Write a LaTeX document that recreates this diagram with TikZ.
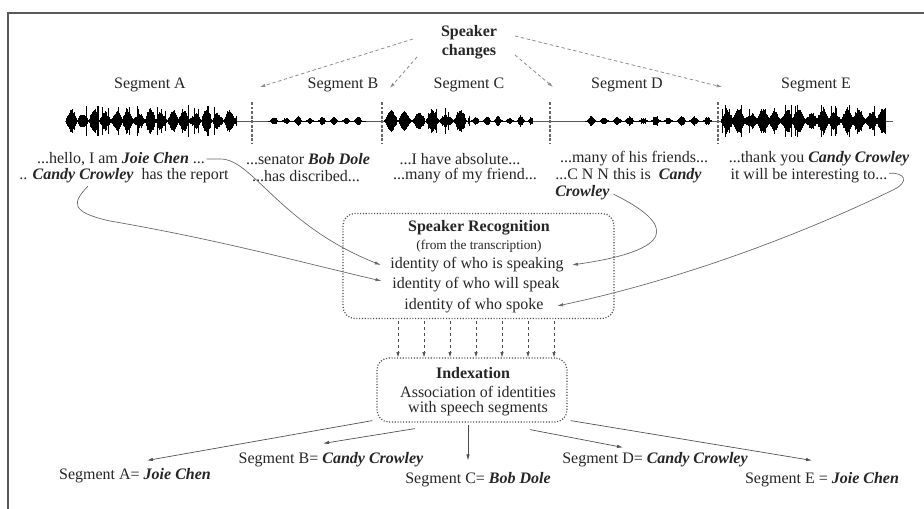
\documentclass[tikz,border=0pt]{standalone}
\usepackage{fontspec}
\setmainfont{Liberation Serif}
\usetikzlibrary{arrows.meta}
\newcommand\bitx[1]{\textbf{\textit{#1}}}
% wave part: x0, x1, amplitude, frequency, base, spike probability, spike amp, power
\newcommand\wavepart[8]{%
  \pgfmathtruncatemacro\wn{(#2-#1)/0.8}%
  \foreach \i in {0,...,\wn}{%
    \pgfmathsetmacro\wx{#1+0.8*\i}%
    \pgfmathsetmacro\wph{0.8*\i*#4}%
    \pgfmathsetmacro\wenv{abs(sin(\wph))^#8}%
    \pgfmathsetmacro\wr{rnd}%
    \pgfmathsetmacro\wh{(\wr<#6)&&(\wenv>0.3) ? #7*(0.65+0.35*rnd) : #5+#3*\wenv*(0.45+0.55*abs(sin(\wph*0.41+#1)))*(0.7+0.3*rnd)}%
    \draw[wave] (\wx,121-\wh) -- (\wx,121+\wh);
  }}
\begin{document}
\begin{tikzpicture}[x=0.75pt,y=-0.75pt,
  txt/.style={inner sep=0pt, font=\fontsize{12}{11.5}\selectfont, text=black!85},
  btxt/.style={inner sep=0pt, font=\fontsize{12}{14.25}\selectfont\bfseries, text=black!85, align=center},
  stxt/.style={inner sep=0pt, font=\fontsize{10}{12}\selectfont, text=black!85},
  wave/.style={line width=0.55pt, black},
  sepline/.style={line width=0.8pt, black!60, dash pattern=on 2.2pt off 1.2pt},
  chg/.style={line width=0.6pt, black!45, dash pattern=on 2.5pt off 2pt, -{Latex[length=4pt,width=2.5pt]}},
  curve/.style={line width=0.5pt, black!60, -{Latex[length=4.5pt,width=2.5pt]}},
  dotbox/.style={draw=black!70, line width=0.9pt, dash pattern=on 0.8pt off 1.3pt, rounded corners=9pt, inner sep=0pt},
  darr/.style={line width=0.5pt, black!70, dash pattern=on 2.5pt off 2pt, -{Latex[length=4pt,width=2.5pt]}},
  sarr/.style={line width=0.5pt, black!70, -{Latex[length=4.5pt,width=2.5pt]}}]
\useasboundingbox (0,0) rectangle (924,509);
\fill[white] (0,0) rectangle (924,509);
% frame
\draw[line width=1.1pt, black!65] (924,13) -- (8,13) -- (8,509);

% speaker changes
\node[btxt] (sc) at (469,42.5) {Speaker\\changes};
% segment titles
\node[txt] (sa) at (150,85) {Segment A};
\node[txt] (sb) at (343,85) {Segment B};
\node[txt] (scc) at (469,85) {Segment C};
\node[txt] (sd) at (627,85) {Segment D};
\node[txt] (se) at (816,85) {Segment E};

% waveform
\draw[line width=0.45pt, black!65] (65,121) -- (893,121);
\pgfmathsetseed{11}
\wavepart{66}{237}{12}{16}{0.8}{0.10}{16}{1.0}
\wavepart{268}{366}{5}{15}{0.15}{0}{0}{3}
\wavepart{384}{470}{12}{13}{0.4}{0.04}{13}{1.3}
\wavepart{470}{533}{6}{16}{0.15}{0}{0}{3}
\wavepart{585}{712}{5.5}{14}{0.15}{0}{0}{3}
\wavepart{721}{885}{13}{15}{0.8}{0.12}{17}{0.9}

% separators
\coordinate (s1t) at (252,102); \coordinate (s1b) at (252,143);
\coordinate (s2t) at (382,102); \coordinate (s2b) at (382,143);
\coordinate (s3t) at (550,102); \coordinate (s3b) at (550,143);
\coordinate (s4t) at (718,102); \coordinate (s4b) at (718,143);
\draw[sepline] (s1t) -- (s1b);
\draw[sepline] (s2t) -- (s2b);
\draw[sepline] (s3t) -- (s3b);
\draw[sepline] (s4t) -- (s4b);

% speaker change arrows
\coordinate (c1s) at (413,39); \coordinate (c1e) at (260,87);
\coordinate (c2s) at (417,57); \coordinate (c2e) at (390,88);
\coordinate (c3s) at (515,55); \coordinate (c3e) at (553,87);
\coordinate (c4s) at (515,36); \coordinate (c4e) at (722,87);
\draw[chg] (c1s) -- (c1e);
\draw[chg] (c2s) -- (c2e);
\draw[chg] (c3s) -- (c3e);
\draw[chg] (c4s) -- (c4e);

% transcriptions
\node[txt] (ta1) at (121,159) {...hello, I am \bitx{Joie Chen} ...};
\node[txt] (ta2) at (124,176) {.. \bitx{Candy Crowley}\ \ has the report};
\node[txt] (tb1) at (308,159) {...senator \bitx{Bob Dole}};
\node[txt] (tb2) at (306,176) {...has discribed...};
\node[txt] (tc1) at (460,159) {...I have absolute...};
\node[txt] (tc2) at (465,176) {...many of my friend...};
\node[txt] (td1) at (634,159) {...many of his friends...};
\node[txt, anchor=west] (td2) at (555,176) {...C N N this is\ \ \bitx{Candy}};
\node[txt, anchor=west] (td3) at (555,193) {\bitx{Crowley}};
\node[txt] (te1) at (819,159) {...thank you \bitx{Candy Crowley}};
\node[txt] (te2) at (809,176) {it will be interesting to...};

% speaker recognition box
\node[dotbox, minimum width=203.25pt, minimum height=78.75pt] (rb) at (478.5,266) {};
\node[txt, font=\fontsize{12}{14}\selectfont\bfseries] (rt) at (479,228) {Speaker Recognition};
\node[stxt] (rs) at (479,246) {(from the transcription)};
\node[txt] (id1) at (477,265) {identity of who is speaking};
\node[txt] (id2) at (476,285) {identity of who will speak};
\node[txt] (id3) at (474,306) {identity of who spoke};

% curves
\coordinate (a2s) at (88,186);
\draw[curve] ([xshift=1pt]ta1.east) -- ++(14,0) .. controls +(32,0) and (280,225) .. ([xshift=-7pt]id1.west);
\draw[curve] (a2s) .. controls (72,203) and (70,212) .. (110,221) .. controls (220,240) and (300,262) .. ([xshift=-8pt,yshift=3pt]id2.west);
\draw[curve] ([xshift=3pt,yshift=-1pt]td3.east) .. controls (676,225) and (676,250) .. ([xshift=6pt]id1.east);
\draw[curve] ([xshift=1pt,yshift=2pt]te2.east) .. controls (905,172) and (910,182) .. (893,190) .. controls (800,235) and (680,280) .. ([xshift=10pt]id3.east);

% indexation box
\node[dotbox, minimum width=142.5pt, minimum height=48pt] (ib) at (472,390) {};
\node[txt, font=\fontsize{12}{14}\selectfont\bfseries] (it) at (473,373) {Indexation};
\node[txt] (ia) at (478,392) {Association of identities};
\node[txt] (iw) at (478,409) {with speech segments};

% dashed arrows between boxes
\foreach \k in {0,...,6}{
  \coordinate (dk\k) at (398+26*\k,0);
  \draw[darr] ([yshift=-1.5pt]dk\k |- rb.south) -- (dk\k |- ib.north);
}

% labels
\node[txt] (la) at (135,476) {Segment A= \bitx{Joie Chen}};
\node[txt] (lb) at (331,460) {Segment B= \bitx{Candy Crowley}};
\node[txt] (lc) at (478,480) {Segment C= \bitx{Bob Dole}};
\node[txt] (ld) at (655,460) {Segment D= \bitx{Candy Crowley}};
\node[txt] (le) at (822,480) {Segment E = \bitx{Joie Chen}};

\draw[sarr] ([shift={(-4,-2)}]ib.south west) -- ([shift={(12,-8)}]la.north);
\draw[sarr] ([shift={(-57,6)}]ib.south) -- ([shift={(-8,-9)}]lb.north);
\draw[sarr] ([shift={(-4,2)}]ib.south) -- ([shift={(-10,-12)}]lc.north);
\draw[sarr] ([shift={(58,7)}]ib.south) -- ([shift={(-32,-5)}]ld.north);
\draw[sarr] ([shift={(3,-2)}]ib.south east) -- ([shift={(-10,-12)}]le.north);
\end{tikzpicture}
\end{document}
